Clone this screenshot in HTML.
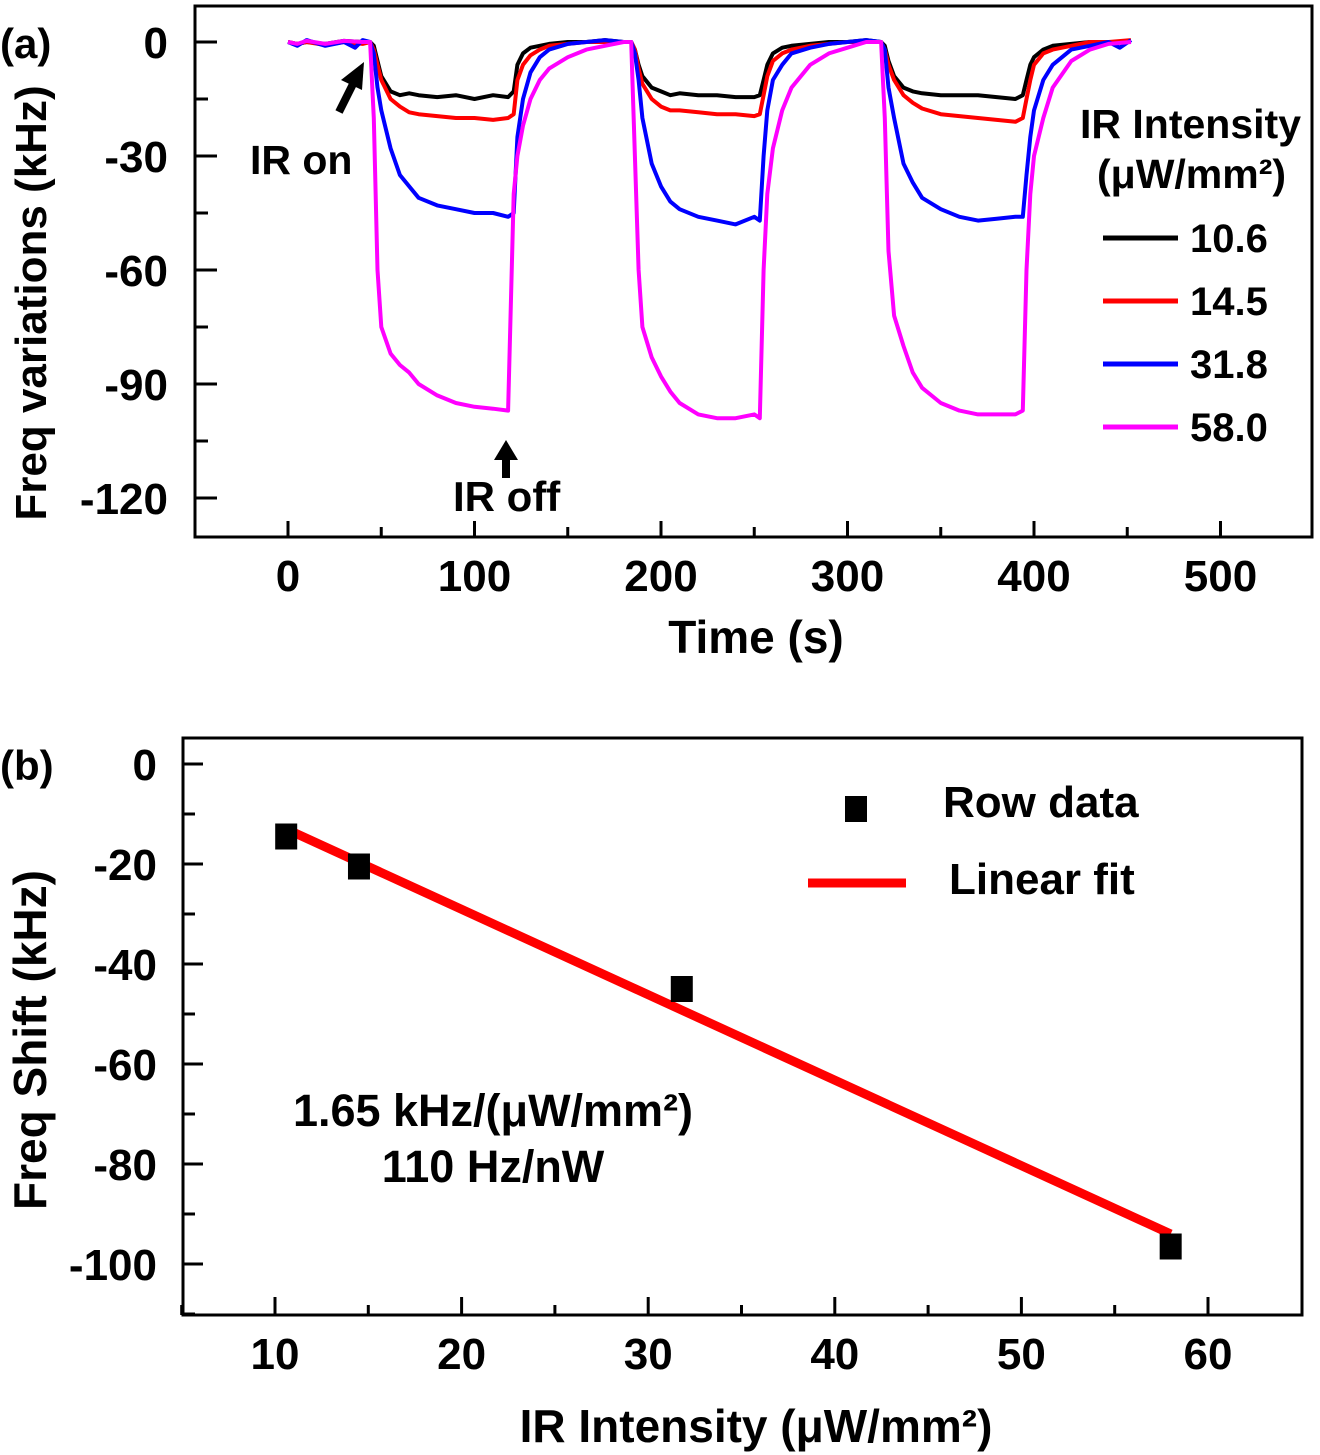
<!DOCTYPE html>
<html><head><meta charset="utf-8"><style>
body{margin:0;background:#fff;}
svg{display:block;font-family:"Liberation Sans",Arial,sans-serif;font-weight:bold;}
</style></head><body>
<svg id="fig" width="1320" height="1455" viewBox="0 0 1320 1455" xmlns="http://www.w3.org/2000/svg">
<g id="pa"></g>
<g id="pb"></g>
</svg>
<script>
// ---- Panel (a) data ----
const aXTicks=[0,100,200,300,400,500];
const aYTicks=[0,-30,-60,-90,-120];
const legendLabels=["10.6","14.5","31.8","58.0"];
const seriesColors=["#000000","#ff0000","#0000ff","#ff00ff"];
const sBlack=[[0,0],[5,-0.5],[10,0],[20,-0.5],[30,0.3],[40,0],[44,0],[46,-1],[48,-5],[50,-9],[55,-13],[60,-14],[65,-13.5],[70,-14],[80,-14.5],[90,-14],[100,-15],[110,-14],[118,-14.5],[121,-13],[123,-6],[126,-3],[130,-1.5],[135,-1],[140,-0.5],[150,0],[160,0],[170,0.5],[180,0],[184,0],[186,-2],[188,-6],[190,-9],[195,-12],[200,-13],[205,-14],[210,-13.5],[220,-14],[230,-14],[240,-14.5],[250,-14.5],[253,-14],[255,-10],[257,-6],[260,-3],[265,-1.5],[270,-1],[280,-0.5],[290,0],[300,0],[310,0.5],[318,0],[320,-1],[322,-5],[325,-9],[330,-12],[335,-13],[340,-13.5],[350,-14],[360,-14],[370,-14],[380,-14.5],[390,-15],[394,-14],[396,-10],[398,-6],[400,-4],[405,-2],[410,-1],[420,-0.5],[430,0],[440,0],[452,0]];
const sRed=[[0,0],[5,-0.5],[10,0],[20,-0.8],[30,0],[40,-0.5],[44,0],[46,-2],[48,-6],[50,-10],[55,-15],[60,-17],[65,-18.5],[70,-19],[80,-19.5],[90,-20],[100,-20],[110,-20.5],[118,-20],[121,-19],[123,-10],[126,-6],[130,-3.5],[135,-2],[140,-1],[150,-0.5],[160,0],[170,0],[180,0],[184,0],[186,-2],[188,-7],[190,-11],[195,-15],[200,-17],[205,-18],[210,-18],[220,-18.5],[230,-19],[240,-19],[250,-19.5],[253,-19],[255,-14],[257,-9],[260,-5],[265,-3],[270,-2],[280,-1],[290,-0.5],[300,0],[310,0],[318,0],[320,-2],[322,-6],[325,-10],[330,-14],[335,-16],[340,-17.5],[350,-19],[360,-19.5],[370,-20],[380,-20.5],[390,-21],[394,-20],[396,-15],[398,-10],[400,-6],[405,-3],[410,-2],[420,-1],[430,0],[440,0],[452,0.5]];
const sBlue=[[0,0],[5,-1],[10,0.5],[20,-1],[30,0],[36,-1.5],[40,0.5],[44,0],[46,-3],[48,-12],[50,-18],[55,-28],[60,-35],[65,-38],[70,-41],[80,-43],[90,-44],[100,-45],[110,-45],[118,-46],[121,-45],[123,-25],[126,-15],[130,-8],[135,-4],[140,-2],[150,-0.5],[160,0],[170,0.5],[180,0],[184,0],[186,-3],[188,-10],[190,-20],[195,-32],[200,-38],[205,-42],[210,-44],[220,-46],[230,-47],[240,-48],[250,-46],[253,-47],[255,-30],[257,-18],[260,-10],[265,-6],[270,-3],[280,-1.5],[290,-0.5],[300,0],[310,0.5],[318,0],[320,-2],[322,-12],[325,-20],[330,-32],[335,-37],[340,-41],[350,-44],[360,-46],[370,-47],[380,-46.5],[390,-46],[394,-46],[396,-35],[398,-25],[400,-18],[405,-10],[410,-6],[420,-2],[430,-1],[440,0],[446,-1.5],[452,0.5]];
const sMag=[[0,0],[5,-0.5],[10,0.3],[20,-0.5],[30,0.3],[40,0],[44,0],[46,-20],[48,-60],[50,-75],[55,-82],[60,-85],[65,-87],[70,-90],[80,-93],[90,-95],[100,-96],[110,-96.5],[118,-97],[121,-40],[123,-30],[126,-22],[130,-15],[135,-10],[140,-7],[150,-4],[160,-2],[170,-1],[180,0],[184,0],[186,-30],[188,-60],[190,-75],[195,-83],[200,-88],[205,-92],[210,-95],[220,-98],[230,-99],[240,-99],[250,-98],[253,-99],[255,-60],[257,-40],[260,-28],[265,-18],[270,-12],[280,-6],[290,-3],[300,-1.5],[310,0],[318,0],[320,-20],[322,-55],[325,-72],[330,-80],[335,-87],[340,-91],[350,-95],[360,-97],[370,-98],[380,-98],[390,-98],[394,-97],[396,-60],[398,-40],[400,-30],[405,-20],[410,-12],[420,-5],[430,-2],[440,-0.5],[452,0]];
const aSeries=[sBlack,sRed,sBlue,sMag];

// ---- Panel (b) data ----
const bXTicks=[10,20,30,40,50,60];
const bYTicks=[0,-20,-40,-60,-80,-100];
const ptX=[10.6,14.5,31.8,58.0];
const ptY=[-14.5,-20.5,-45,-96.5];
const fitX=[10.6,58.0];
const fitY=[-13,-94];

const NS="http://www.w3.org/2000/svg";
function el(tag,attrs,parent,txt){const e=document.createElementNS(NS,tag);for(const k in attrs)e.setAttribute(k,attrs[k]);if(txt!==undefined)e.textContent=txt;parent.appendChild(e);return e;}

// Panel a axes
const ax=v=>288+v*1.865;
const ay=v=>42-v*3.8;
const pa=document.getElementById('pa');
let r=el('rect',{x:195,y:6,width:1117,height:531,fill:'none',stroke:'#000','stroke-width':3},pa);

for(let v=0;v<=500;v+=50){const maj=v%100===0;el('line',{x1:ax(v),x2:ax(v),y1:537,y2:537-(maj?16:10),stroke:'#000','stroke-width':3},pa);}
for(let v=0;v>=-120;v-=15){const maj=v%30===0;el('line',{x1:195,x2:195+(maj?22:13),y1:ay(v),y2:ay(v),stroke:'#000','stroke-width':3},pa);}
aXTicks.forEach(v=>{const t=el('text',{x:ax(v),y:591,'font-size':44,'text-anchor':'middle'},pa,String(v));});
aYTicks.forEach(v=>{const t=el('text',{x:168,y:ay(v)+16,'font-size':44,'text-anchor':'end'},pa,String(v));});
let t=el('text',{x:756,y:653,'font-size':46,'text-anchor':'middle'},pa,'Time (s)');

t=el('text',{x:0,y:0,'font-size':44,'text-anchor':'middle',transform:'translate(46,303) rotate(-90)'},pa,'Freq variations (kHz)');

t=el('text',{x:0,y:58,'font-size':42},pa,'(a)');

aSeries.forEach((s,i)=>{const p=el('polyline',{points:s.map(d=>ax(d[0]).toFixed(1)+','+ay(d[1]).toFixed(1)).join(' '),fill:'none',stroke:seriesColors[i],'stroke-width':4,'stroke-linejoin':'round'},pa);
});
// annotations
t=el('text',{x:250,y:174,'font-size':41},pa,'IR on');

let g=el('g',{},pa);
el('line',{x1:339,y1:112,x2:355,y2:80,stroke:'#000','stroke-width':8},g);
el('polygon',{points:'364,62 341,80 362,90',fill:'#000'},g);
t=el('text',{x:453,y:511,'font-size':42},pa,'IR off');

g=el('g',{},pa);
el('line',{x1:506,y1:478,x2:506,y2:455,stroke:'#000','stroke-width':8},g);
el('polygon',{points:'506,440 494,460 518,460',fill:'#000'},g);
// legend a
t=el('text',{x:1301,y:138,'font-size':41,'text-anchor':'end'},pa,'IR Intensity');

t=el('text',{x:1286,y:188,'font-size':41,'text-anchor':'end'},pa,'(μW/mm²)');

legendLabels.forEach((lab,i)=>{const y=238+i*63;const lg=el('g',{},pa);

el('line',{x1:1103,x2:1178,y1:y,y2:y,stroke:seriesColors[i],'stroke-width':5},lg);
el('text',{x:1190,y:y+14,'font-size':40},lg,lab);});

// Panel b
const bx=v=>275+(v-10)*18.66;
const by=v=>764-v*5.0;
const pb=document.getElementById('pb');
r=el('rect',{x:183,y:738,width:1119,height:577,fill:'none',stroke:'#000','stroke-width':3},pb);

for(let v=5;v<=60;v+=5){const maj=v%10===0;el('line',{x1:bx(v),x2:bx(v),y1:1315,y2:1315-(maj?18:10),stroke:'#000','stroke-width':3},pb);}
for(let v=0;v>=-110;v-=10){const maj=v%20===0;el('line',{x1:183,x2:183+(maj?20:12),y1:by(v),y2:by(v),stroke:'#000','stroke-width':3},pb);}
bXTicks.forEach(v=>{const t=el('text',{x:bx(v),y:1369,'font-size':44,'text-anchor':'middle'},pb,String(v));});
bYTicks.forEach(v=>{const t=el('text',{x:157,y:by(v)+16,'font-size':44,'text-anchor':'end'},pb,String(v));});
t=el('text',{x:756,y:1442,'font-size':46,'text-anchor':'middle'},pb,'IR Intensity (μW/mm²)');

t=el('text',{x:0,y:0,'font-size':46,'text-anchor':'middle',transform:'translate(46,1040) rotate(-90)'},pb,'Freq Shift (kHz)');

t=el('text',{x:0,y:780,'font-size':42},pb,'(b)');

const fl=el('line',{x1:bx(fitX[0]),y1:by(fitY[0]),x2:bx(fitX[1]),y2:by(fitY[1]),stroke:'#ff0000','stroke-width':9},pb);

ptX.forEach((x,i)=>{const s=el('rect',{x:bx(x)-11,y:by(ptY[i])-13,width:22,height:26,fill:'#000'},pb);
});
g=el('g',{},pb);
el('rect',{x:845,y:796,width:22,height:26,fill:'#000'},g);
el('text',{x:943,y:817,'font-size':44},g,'Row data');
g=el('g',{},pb);
el('line',{x1:808,x2:906,y1:883,y2:883,stroke:'#ff0000','stroke-width':9},g);
el('text',{x:949,y:894,'font-size':44},g,'Linear fit');
t=el('text',{x:493,y:1126,'font-size':45,'text-anchor':'middle'},pb,'1.65 kHz/(μW/mm²)');

t=el('text',{x:493,y:1182,'font-size':45,'text-anchor':'middle'},pb,'110 Hz/nW');

</script>
</body></html>
